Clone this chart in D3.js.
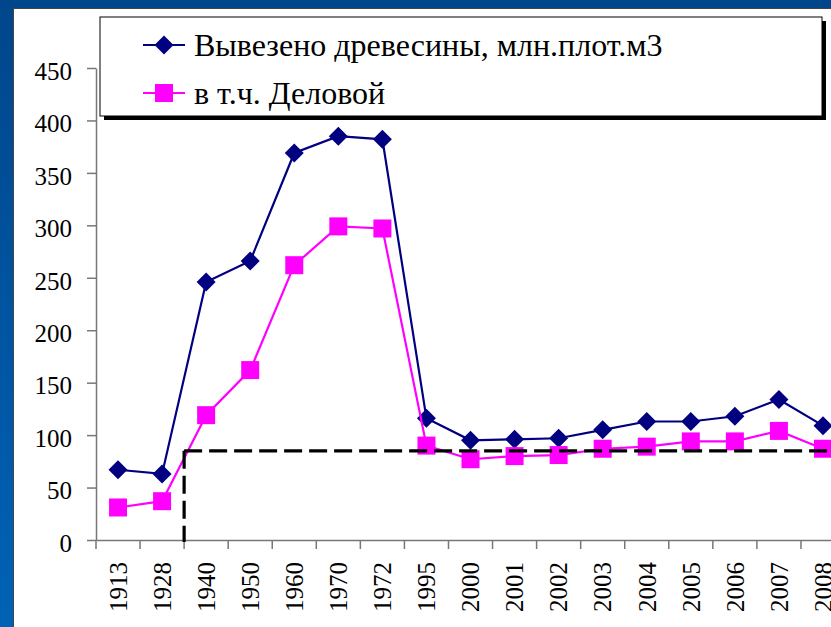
<!DOCTYPE html>
<html>
<head>
<meta charset="utf-8">
<script src="https://cdn.jsdelivr.net/npm/d3@7"></script>
</head>
<body style="margin:0">
<script>
// Chart data
const years = ["1913", "1928", "1940", "1950", "1960", "1970", "1972", "1995",
  "2000", "2001", "2002", "2003", "2004", "2005", "2006", "2007", "2008"];
const totalHarvest = [67, 63, 246, 266, 369, 385, 382, 116,
  95, 96, 97, 105, 113, 113, 118, 134, 109];
const businessWood = [31, 37, 119, 162, 262, 299, 297, 90,
  77, 80, 81, 87, 89, 94, 94, 104, 87];
const yTicks = [0, 50, 100, 150, 200, 250, 300, 350, 400, 450];
const seriesNames = ["Вывезено древесины, млн.плот.м3", "в т.ч. Деловой"];
const cutoffLevel = 85;
const cutoffYear = "1940";

const WIDTH = 831, HEIGHT = 627;
const FONT = "Times New Roman";
const PLOT = { left: 96, top: 68, bottom: 540, bandWidth: 44.06 };
const COLORS = { total: "#000080", business: "#ff00ff", axis: "#777", text: "#000" };

// set the serif face straight on each text node
function serif(sel, size) {
  sel.attr("font-family", FONT)
    .attr("font-size", size)
    .attr("style", `font-family:'Times New Roman','Liberation Serif',serif;font-size:${size}px`);
}

const svg = d3.select("body").append("svg")
  .attr("width", WIDTH)
  .attr("height", HEIGHT);

// Blue slide frame
const grad = svg.append("defs").append("linearGradient")
  .attr("id", "frame").attr("x1", 0).attr("y1", 0).attr("x2", 0).attr("y2", 1);
grad.append("stop").attr("offset", "0%").attr("stop-color", "#00468b");
grad.append("stop").attr("offset", "100%").attr("stop-color", "#0062b6");
svg.append("rect").attr("width", WIDTH).attr("height", HEIGHT).attr("fill", "url(#frame)");
svg.append("rect").attr("x", 13).attr("y", 8).attr("width", WIDTH).attr("height", HEIGHT)
  .attr("fill", "#444");
svg.append("rect").attr("x", 14).attr("y", 9).attr("width", WIDTH).attr("height", HEIGHT)
  .attr("fill", "#fff");

const x = d3.scaleBand()
  .domain(years)
  .range([PLOT.left, PLOT.left + years.length * PLOT.bandWidth])
  .padding(0);

const y = d3.scaleLinear()
  .domain([0, 450])
  .range([PLOT.bottom, PLOT.top]);

const cx = (d) => x(d) + x.bandwidth() / 2;

// Y axis
svg.append("g")
  .attr("transform", `translate(${PLOT.left},0)`)
  .call(d3.axisLeft(y).tickValues(yTicks).tickSize(9).tickPadding(15).tickSizeOuter(0))
  .call((g) => {
    g.attr("font-family", FONT).attr("font-size", 25);
    g.select(".domain").attr("stroke", COLORS.axis).attr("stroke-width", 1.5);
    g.selectAll(".tick line").attr("stroke", COLORS.axis).attr("stroke-width", 1.5);
    g.selectAll(".tick text")
      .attr("dy", "0.45em")
      .attr("fill", COLORS.text)
      .call(serif, 25);
  });

// X axis (labels at band centres, tick marks at band edges)
const xAxis = svg.append("g")
  .attr("transform", `translate(0,${PLOT.bottom})`)
  .call(d3.axisBottom(x).tickSize(0).tickSizeOuter(0))
  .call((g) => {
    g.attr("font-family", FONT).attr("font-size", 25);
    g.select(".domain").attr("stroke", COLORS.axis).attr("stroke-width", 1.5);
    g.selectAll(".tick text")
      .attr("transform", "rotate(-90)")
      .attr("x", -22)
      .attr("y", 0)
      .attr("dy", "0.35em")
      .attr("text-anchor", "end")
      .attr("fill", COLORS.text)
      .call(serif, 25);
  });

xAxis.selectAll(".edge-tick")
  .data(years)
  .enter()
  .append("line")
  .attr("class", "edge-tick")
  .attr("x1", (d) => x(d))
  .attr("x2", (d) => x(d))
  .attr("y1", 0)
  .attr("y2", 9)
  .attr("stroke", COLORS.axis)
  .attr("stroke-width", 1.5);

// Series lines + markers
const line = d3.line()
  .x((d) => cx(d.year))
  .y((d) => y(d.value));

const totalData = years.map((year, i) => ({ year, value: totalHarvest[i] }));
const businessData = years.map((year, i) => ({ year, value: businessWood[i] }));

const diamond = "M0,-9.5L9.5,0L0,9.5L-9.5,0Z";
const square = "M-9,-9H9V9H-9Z";

function drawSeries(seriesData, color, shape) {
  svg.append("path")
    .datum(seriesData)
    .attr("d", line)
    .attr("fill", "none")
    .attr("stroke", color)
    .attr("stroke-width", 2.2);

  svg.selectAll(null)
    .data(seriesData)
    .enter()
    .append("path")
    .attr("d", shape)
    .attr("transform", (d) => `translate(${cx(d.year)},${y(d.value)})`)
    .attr("fill", color);
}

drawSeries(totalData, COLORS.total, diamond);
drawSeries(businessData, COLORS.business, square);

// Dashed reference lines
const cutX = x(cutoffYear);
svg.append("line")
  .attr("x1", cutX).attr("x2", WIDTH + 20)
  .attr("y1", y(cutoffLevel)).attr("y2", y(cutoffLevel))
  .attr("stroke", "#000").attr("stroke-width", 3.2)
  .attr("stroke-dasharray", "18,7");
svg.append("line")
  .attr("x1", cutX).attr("x2", cutX)
  .attr("y1", y(cutoffLevel)).attr("y2", y(0) + 2)
  .attr("stroke", "#000").attr("stroke-width", 3.2)
  .attr("stroke-dasharray", "18,7");

// Legend
const legend = svg.append("g").attr("transform", "translate(100,17)");
legend.append("rect")
  .attr("x", 4).attr("y", 4).attr("width", 722).attr("height", 99)
  .attr("fill", "#000");
legend.append("rect")
  .attr("width", 722).attr("height", 99)
  .attr("fill", "#fff").attr("stroke", "#000").attr("stroke-width", 1);

[
  { label: seriesNames[0], color: COLORS.total, shape: diamond },
  { label: seriesNames[1], color: COLORS.business, shape: square },
].forEach((item, idx) => {
  const row = legend.append("g").attr("transform", `translate(0,${28 + idx * 48})`);
  row.append("line")
    .attr("x1", 43).attr("x2", 85)
    .attr("stroke", item.color).attr("stroke-width", 2.2);
  row.append("path")
    .attr("d", item.shape)
    .attr("transform", "translate(64,0)")
    .attr("fill", item.color);
  row.append("text")
    .attr("x", 94)
    .attr("y", 11)
    .attr("fill", COLORS.text)
    .call(serif, 32)
    .text(item.label);
});
</script>
</body>
</html>
